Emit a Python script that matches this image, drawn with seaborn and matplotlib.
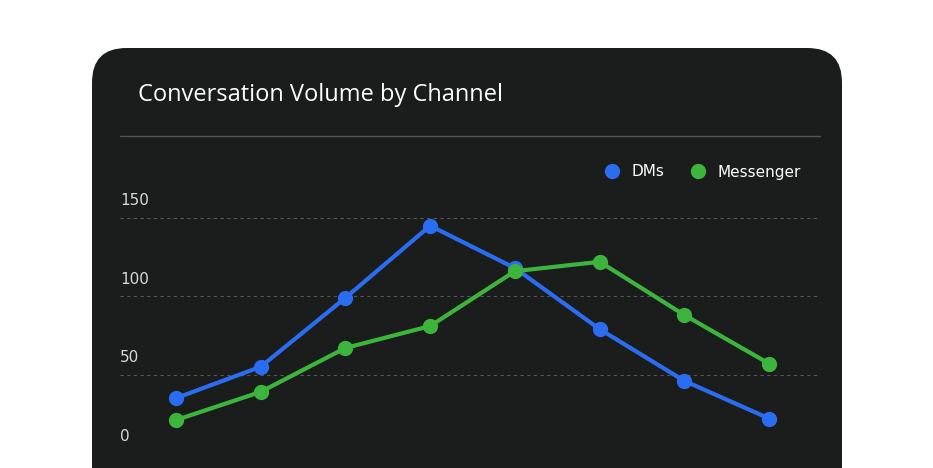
import matplotlib
matplotlib.use("Agg")
import matplotlib.pyplot as plt
import seaborn as sns
import pandas as pd
from matplotlib.patches import FancyBboxPatch
from matplotlib.lines import Line2D

# data
steps = list(range(8))
dms = [35, 55, 99, 145, 118, 79, 46, 22]
messenger = [21, 39, 67, 81, 116, 122, 88, 57]
series_names = ["DMs", "Messenger"]
colors = ["#2a6df0", "#3db53d"]

df = pd.DataFrame({
    "step": steps * 2,
    "value": dms + messenger,
    "channel": [series_names[0]] * 8 + [series_names[1]] * 8,
})

sns.set_theme(style="dark")
W, H = 933, 468
fig = plt.figure(figsize=(W / 100, H / 100), dpi=100)
fig.patch.set_facecolor("white")

card = FancyBboxPatch((92 / W, -0.2), 750 / W, 1.2 - 48 / H,
                      boxstyle="round,pad=0,rounding_size=0.037",
                      transform=fig.transFigure, facecolor="#1b1c1c",
                      edgecolor="none", mutation_aspect=W / H, zorder=-10)
fig.patches.append(card)

fig.text(138 / W, 1 - 95 / H, "Conversation Volume by Channel", color="white",
         fontsize=17, va="center", ha="left", family="Open Sans")
fig.add_artist(Line2D([120 / W, 820 / W], [1 - 136 / H] * 2,
                      transform=fig.transFigure, color="#555555", lw=1))

ax = fig.add_axes([120 / W, 1 - 453 / H, 700 / W, 263 / H])
ax.set_facecolor("none")
ax.set_zorder(5)
sns.lineplot(data=df, x="step", y="value", hue="channel",
             palette=colors, marker="o", markersize=11, markeredgewidth=0,
             linewidth=3, ax=ax, legend=False)
ax.set_xlim(-0.66, 7.6)
ax.set_ylim(0, 167.8)
ax.set_xticks([])
ax.set_yticks([])
ax.set_xlabel("")
ax.set_ylabel("")
for s in ax.spines.values():
    s.set_visible(False)
for v in [0, 50, 100, 150]:
    ax.axhline(v, color="#555555", lw=0.8, ls=(0, (3, 3)), zorder=0)
    ax.text(0.0, v + 6, str(v), color="#d8d8d8", fontsize=11,
            transform=ax.get_yaxis_transform(), ha="left", va="bottom")

handles = [Line2D([], [], marker="o", ls="none", color=c, markersize=10)
           for c in colors]
leg = fig.legend(handles, series_names, loc="center right",
                 bbox_to_anchor=(815 / W, 1 - 172 / H), ncol=2, frameon=False,
                 handletextpad=0.3, columnspacing=1.2, fontsize=11)
for t in leg.get_texts():
    t.set_color("white")

fig.savefig("out.png", dpi=100)
